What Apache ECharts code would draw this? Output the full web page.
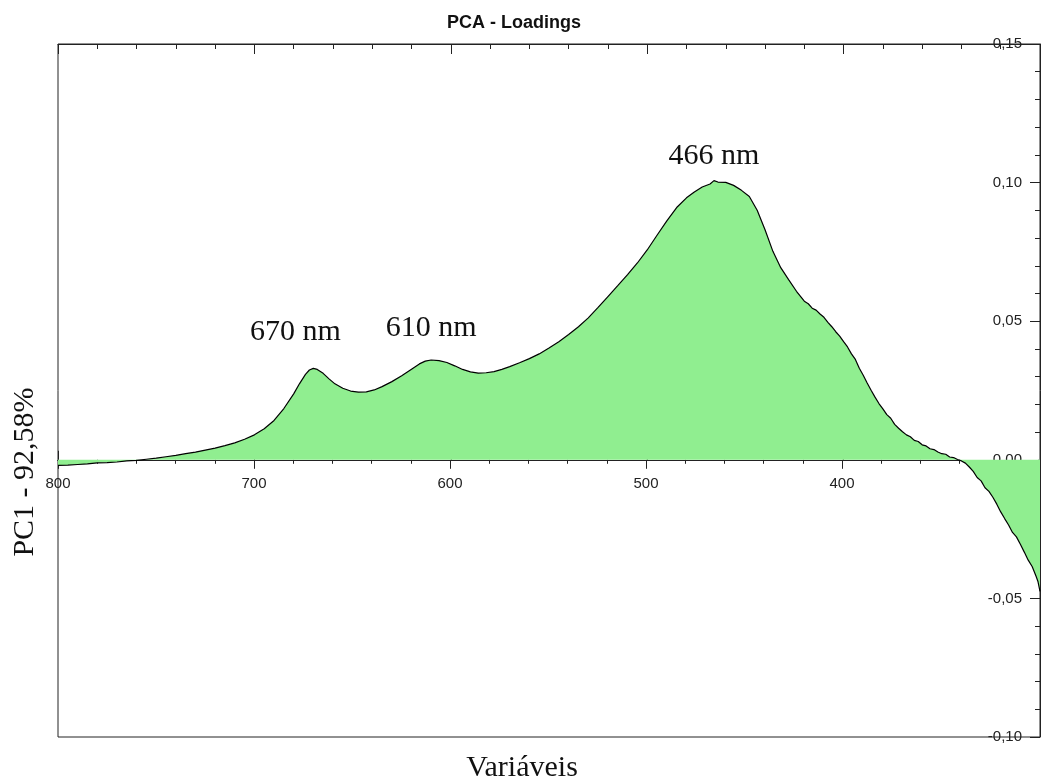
<!DOCTYPE html>
<html>
<head>
<meta charset="utf-8">
<title>PCA - Loadings</title>
<script src="https://cdn.jsdelivr.net/npm/echarts@6/dist/echarts.min.js"></script>
<style>
  html, body { margin: 0; padding: 0; background: #fff; }
  #chart { width: 1041px; height: 782px; }
</style>
</head>
<body>
<div id="chart"></div>
<script>
// Wavelength (nm) of each variable and its PC1 loading
const wavelengths = [
  800, 795, 790, 785, 780, 775, 770, 765, 760, 755, 750, 745, 740, 735, 730, 725, 720, 715, 710, 705,
  700, 695, 690, 685, 680, 677, 674, 672, 670, 668, 665, 662, 659, 655, 651, 647, 643, 639, 635, 630,
  625, 620, 616, 613, 610, 606, 602, 598, 594, 590, 586, 582, 578, 574, 570, 565, 560, 555, 550, 545,
  540, 535, 530, 525, 520, 515, 510, 505, 500, 495, 490, 485, 480, 476, 472, 468, 466, 464, 460, 456,
  452, 448, 444, 440, 436, 432, 428, 424, 420, 418, 416, 414, 412, 410, 408, 406, 404, 402, 400, 398,
  396, 394, 392, 390, 388, 386, 384, 382, 380, 378, 376, 374, 372, 370, 368, 366, 364, 362, 360, 358,
  356, 354, 352, 350, 348, 346, 344, 342, 340, 338, 336, 334, 332, 330, 328, 326, 324, 322, 320, 318,
  316, 314, 312, 310, 308, 306, 304, 302, 301, 300
];
const loadings = [
  -0.0020, -0.0019, -0.0017, -0.0015, -0.0011, -0.0010, -0.0008, -0.0004, -0.0002, 0.0002,
  0.0006, 0.0011, 0.0016, 0.0022, 0.0028, 0.0035, 0.0042, 0.0051, 0.0061, 0.0074,
  0.0090, 0.0112, 0.0142, 0.0185, 0.0238, 0.0275, 0.0308, 0.0324, 0.0330, 0.0326,
  0.0312, 0.0292, 0.0274, 0.0258, 0.0248, 0.0244, 0.0245, 0.0252, 0.0264, 0.0282,
  0.0303, 0.0327, 0.0346, 0.0356, 0.0360, 0.0358, 0.0351, 0.0339, 0.0326, 0.0317,
  0.0313, 0.0314, 0.0318, 0.0326, 0.0336, 0.0350, 0.0365, 0.0382, 0.0403, 0.0426,
  0.0452, 0.0480, 0.0512, 0.0550, 0.0589, 0.0628, 0.0668, 0.0710, 0.0757, 0.0810,
  0.0862, 0.0910, 0.0945, 0.0966, 0.0984, 0.0995, 0.1007, 0.1002, 0.1001, 0.0990,
  0.0972, 0.0950, 0.0900, 0.0830, 0.0752, 0.0693, 0.0650, 0.0608, 0.0572, 0.0563,
  0.0547, 0.0540, 0.0526, 0.0514, 0.0496, 0.0480, 0.0462, 0.0446, 0.0426, 0.0407,
  0.0382, 0.0362, 0.0330, 0.0305, 0.0277, 0.0251, 0.0226, 0.0203, 0.0184, 0.0163,
  0.0150, 0.0128, 0.0114, 0.0101, 0.0090, 0.0083, 0.0070, 0.0066, 0.0054, 0.0050,
  0.0040, 0.0037, 0.0028, 0.0022, 0.0020, 0.0010, 0.0008, 0.0001, -0.0004, -0.0012,
  -0.0026, -0.0042, -0.0064, -0.0076, -0.0101, -0.0114, -0.0135, -0.0160, -0.0188, -0.0212,
  -0.0235, -0.0262, -0.0278, -0.0305, -0.0333, -0.0362, -0.0385, -0.0420, -0.0440, -0.0475
];
// Annotated band maxima (nm)
const peakBands = [670, 610, 466];
const peakLabelOffsets = [[-18, -36], [0, -32], [0, -25]];

const chartTitle = 'PCA - Loadings';
const xAxisTitle = 'Variáveis';
const yAxisTitle = 'PC1 - 92,58%';

const sansFont = 'Arial, "Liberation Sans", sans-serif';
const serifFont = '"Times New Roman", "Liberation Serif", serif';
const ink = '#222';

const points = wavelengths.map((w, i) => [w, loadings[i]]);
const peakMarks = peakBands.map((w, k) => ({
  coord: [w, loadings[wavelengths.indexOf(w)]],
  label: { formatter: w + ' nm', offset: peakLabelOffsets[k] }
}));

const xRange = { min: 300, max: 800, interval: 100, inverse: true };
const yRange = { min: -0.1, max: 0.15, interval: 0.05 };

// Plot frame; the upper band ends on the zero line so the wavelength scale sits there
const plotRect = { left: 58, top: 44, width: 982, height: 693 };
const upperBand = {
  left: plotRect.left, top: plotRect.top, width: plotRect.width,
  height: plotRect.height * (yRange.max / (yRange.max - yRange.min))
};

const chart = echarts.init(document.getElementById('chart'), null, { renderer: 'canvas' });

const tickLine = { lineStyle: { color: ink, width: 1 } };

chart.setOption({
  animation: false,
  backgroundColor: '#ffffff',
  title: {
    text: chartTitle,
    left: 442,
    top: 9,
    textStyle: { fontFamily: sansFont, fontWeight: 'bold', fontSize: 18, color: '#111' }
  },
  grid: [
    Object.assign({ show: true, borderColor: ink, borderWidth: 1, backgroundColor: 'transparent' }, plotRect),
    Object.assign({ show: false }, plotRect),
    Object.assign({ show: false }, upperBand)
  ],
  xAxis: [
    // zero line
    Object.assign({
      type: 'value', gridIndex: 0, position: 'bottom',
      axisLine: Object.assign({ onZero: true }, tickLine),
      axisTick: { show: false }, minorTick: { show: false },
      axisLabel: { show: false }, splitLine: { show: false }
    }, xRange),
    // top frame ticks pointing into the plot
    Object.assign({
      type: 'value', gridIndex: 0, position: 'top',
      axisLine: Object.assign({ onZero: false }, tickLine),
      axisTick: Object.assign({ show: true, inside: true, length: 10 }, tickLine),
      minorTick: Object.assign({ show: true, splitNumber: 5, length: 5 }, tickLine),
      axisLabel: { show: false }, splitLine: { show: false }
    }, xRange),
    // upper half of the major ticks on the zero line
    Object.assign({
      type: 'value', gridIndex: 1, position: 'bottom',
      axisLine: Object.assign({ onZero: true }, tickLine),
      axisTick: Object.assign({ show: true, inside: true, length: 9 }, tickLine),
      minorTick: { show: false },
      axisLabel: { show: false }, splitLine: { show: false }
    }, xRange),
    // wavelength scale on the zero line: lower ticks, minor ticks and labels
    Object.assign({
      type: 'value', gridIndex: 2, position: 'bottom',
      axisLine: Object.assign({ onZero: false }, tickLine),
      axisTick: Object.assign({ show: true, inside: false, length: 9 }, tickLine),
      minorTick: Object.assign({ show: true, splitNumber: 5, length: 4 }, tickLine),
      axisLabel: {
        show: true, margin: 17, fontFamily: sansFont, fontSize: 15, color: ink,
        formatter: v => (v === 300 ? '' : String(v))
      },
      splitLine: { show: false }
    }, xRange)
  ],
  yAxis: [
    Object.assign({
      type: 'value', gridIndex: 0, position: 'right',
      axisLine: Object.assign({ show: true, onZero: false }, tickLine),
      axisTick: Object.assign({ show: true, inside: true, length: 10 }, tickLine),
      minorTick: Object.assign({ show: true, splitNumber: 5, length: 5 }, tickLine),
      axisLabel: {
        show: true, inside: true, margin: 18, fontFamily: sansFont, fontSize: 15, color: ink,
        showMinLabel: true, showMaxLabel: true,
        formatter: v => v.toFixed(2).replace('.', ',')
      },
      splitLine: { show: false }
    }, yRange),
    Object.assign({ type: 'value', gridIndex: 1, show: false, splitLine: { show: false } }, yRange),
    { type: 'value', gridIndex: 2, show: false, min: 0, max: yRange.max, splitLine: { show: false } }
  ],
  series: [{
    type: 'line',
    xAxisIndex: 0,
    yAxisIndex: 0,
    data: points,
    showSymbol: false,
    symbol: 'none',
    smooth: false,
    lineStyle: { color: '#000', width: 1.2 },
    areaStyle: { color: '#90ee90', opacity: 1 },
    z: 1,
    markPoint: {
      symbol: 'circle',
      symbolSize: 0,
      label: {
        show: true, position: 'inside',
        fontFamily: serifFont, fontSize: 30, color: '#111'
      },
      data: peakMarks
    }
  }],
  graphic: [
    {
      type: 'text', x: 522, y: 768,
      style: {
        text: xAxisTitle, fontFamily: serifFont, fontSize: 30, fill: '#111',
        textAlign: 'center', textVerticalAlign: 'middle'
      }
    },
    {
      type: 'text', x: 25, y: 472, rotation: Math.PI / 2,
      style: {
        text: yAxisTitle, fontFamily: serifFont, fontSize: 30, fill: '#111',
        textAlign: 'center', textVerticalAlign: 'middle'
      }
    }
  ]
});
</script>
</body>
</html>
